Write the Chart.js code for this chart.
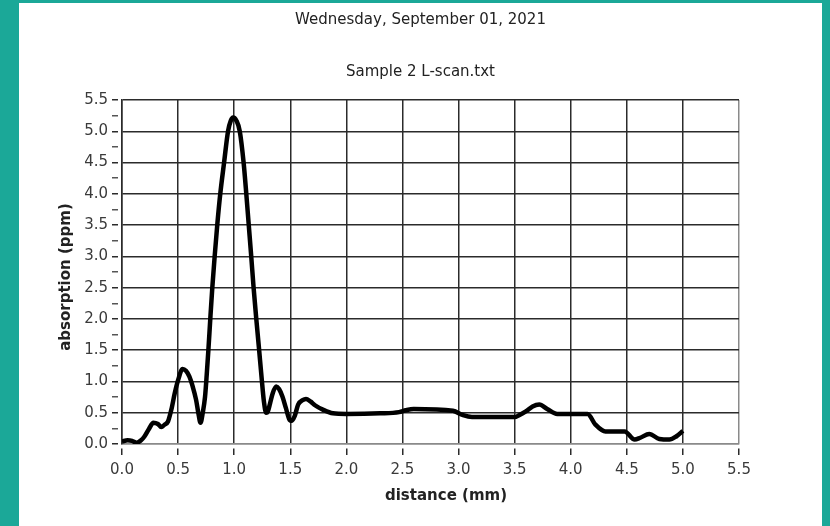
<!DOCTYPE html>
<html>
<head>
<meta charset="utf-8">
<script src="https://cdn.jsdelivr.net/npm/chart.js@4/dist/chart.umd.min.js"></script>
<style>
  html, body { margin: 0; padding: 0; }
  body { width: 830px; height: 526px; background: #1ba898; position: relative; overflow: hidden; }
  .panel { position: absolute; left: 19px; top: 3px; width: 803px; height: 523px; background: #fff; }
  canvas { display: block; }
</style>
</head>
<body>
<div class="panel"><canvas id="scan" width="803" height="523"></canvas></div>
<script>
  "use strict";

  // L-scan profile: distance along the sample (mm) and absorption (ppm)
  var distance = [
    0.00, 0.05, 0.09, 0.13, 0.17, 0.20, 0.24, 0.28, 0.32, 0.35,
    0.38, 0.41, 0.44, 0.47, 0.50, 0.54, 0.57, 0.60, 0.63, 0.66,
    0.68, 0.70, 0.72, 0.74, 0.755, 0.77, 0.787, 0.805, 0.826, 0.849,
    0.876, 0.91, 0.945, 0.97, 0.99, 1.02, 1.05, 1.084, 1.108, 1.13,
    1.152, 1.173, 1.197, 1.22, 1.245, 1.265, 1.285, 1.30, 1.32,
    1.345, 1.375, 1.40, 1.43, 1.46, 1.49, 1.51, 1.54, 1.57, 1.61,
    1.64, 1.68, 1.72, 1.79, 1.88, 2.00, 2.30, 2.47, 2.53, 2.60,
    2.95, 3.04, 3.12, 3.50, 3.54, 3.60, 3.66, 3.72, 3.79, 3.88,
    4.15, 4.22, 4.31, 4.48, 4.57, 4.62, 4.70, 4.79, 4.88, 4.94,
    5.00
  ];
  var absorption = [
    0.04, 0.06, 0.05, 0.02, 0.06, 0.12, 0.24, 0.34, 0.32, 0.27,
    0.31, 0.36, 0.55, 0.81, 1.02, 1.20, 1.17, 1.08, 0.92, 0.71,
    0.50, 0.34, 0.50, 0.75, 1.10, 1.50, 2.00, 2.50, 3.00, 3.50,
    4.00, 4.50, 5.00, 5.17, 5.22, 5.17, 5.00, 4.50, 4.00, 3.50,
    3.00, 2.50, 2.00, 1.55, 1.05, 0.68, 0.50, 0.52, 0.65,
    0.82, 0.92, 0.88, 0.76, 0.58, 0.40, 0.37, 0.45, 0.63, 0.70,
    0.72, 0.68, 0.62, 0.55, 0.49, 0.48, 0.49, 0.51, 0.54, 0.56,
    0.53, 0.46, 0.43, 0.43, 0.46, 0.52, 0.60, 0.63, 0.56, 0.48,
    0.48, 0.31, 0.20, 0.20, 0.07, 0.10, 0.16, 0.08, 0.07, 0.12,
    0.21
  ];

  var plotTitle = "Wednesday, September 01, 2021";
  var plotSubtitle = "Sample 2 L-scan.txt";
  var xLabel = "distance (mm)";
  var yLabel = "absorption (ppm)";

  var points = distance.map(function (d, i) {
    return { x: d, y: absorption[i] };
  });

  var fontFamily = "'DejaVu Sans', sans-serif";
  var gridDark = "#2b2b2b";
  var gridEdge = "#8a8a8a";
  var textColor = "#3a3a3a";

  // major values are the multiples of 0.5, everything else is a minor tick
  function isMajor(v) {
    return Math.abs(v * 2 - Math.round(v * 2)) < 1e-6;
  }

  // titles and axis names, placed on the whole panel rather than the plot box
  var panelText = {
    id: "panelText",
    afterDraw: function (chart) {
      var ctx = chart.ctx;
      var mid = chart.width / 2;
      ctx.save();
      ctx.fillStyle = "#222";
      ctx.textAlign = "center";
      ctx.textBaseline = "middle";
      ctx.font = "15px " + fontFamily;
      ctx.fillText(plotTitle, mid, 17);
      ctx.fillText(plotSubtitle, mid, 69);
      ctx.font = "bold 15px " + fontFamily;
      ctx.fillText(xLabel, 427, 493);
      ctx.translate(47, 274);
      ctx.rotate(-Math.PI / 2);
      ctx.fillText(yLabel, 0, 0);
      ctx.restore();
    },
  };

  new Chart(document.getElementById("scan"), {
    type: "line",
    data: {
      datasets: [
        {
          data: points,
          borderColor: "#000",
          borderWidth: 4.5,
          pointRadius: 0,
          fill: false,
          tension: 0.4,
          cubicInterpolationMode: "monotone",
        },
      ],
    },
    plugins: [panelText],
    options: {
      responsive: false,
      animation: false,
      layout: { padding: { left: 0, right: 83, top: 97, bottom: 0 } },
      plugins: {
        legend: { display: false },
        tooltip: { enabled: false },
      },
      scales: {
        x: {
          type: "linear",
          min: 0,
          max: 5.5,
          afterFit: function (scale) { scale.height = 82; },
          ticks: {
            stepSize: 0.5,
            autoSkip: false,
            maxRotation: 0,
            padding: 6,
            color: textColor,
            font: { family: fontFamily, size: 15 },
            callback: function (v) { return v.toFixed(1); },
          },
          grid: {
            color: function (ctx) {
              return ctx.tick && ctx.tick.value >= 5.5 ? gridEdge : gridDark;
            },
            lineWidth: 1.5,
            tickLength: 11,
            tickColor: gridDark,
            tickBorderDash: [7, 4],
            tickBorderDashOffset: 7,
            tickWidth: 1.5,
          },
          border: { display: true, color: gridEdge, width: 1.5 },
        },
        y: {
          min: 0,
          max: 5.5,
          afterFit: function (scale) { scale.width = 103; },
          afterBuildTicks: function (scale) {
            var ticks = [];
            for (var i = 0; i <= 22; i++) ticks.push({ value: i * 0.25 });
            scale.ticks = ticks;
          },
          ticks: {
            autoSkip: false,
            padding: 4,
            color: textColor,
            font: { family: fontFamily, size: 15 },
            callback: function (v) { return isMajor(v) ? v.toFixed(1) : ""; },
          },
          grid: {
            color: function (ctx) {
              if (!ctx.tick) return gridDark;
              if (!isMajor(ctx.tick.value)) return "rgba(0,0,0,0)";
              return ctx.tick.value <= 0 ? gridEdge : gridDark;
            },
            lineWidth: 1.5,
            tickLength: 10,
            tickColor: function (ctx) {
              return ctx.tick && isMajor(ctx.tick.value) ? gridDark : "#555";
            },
            tickBorderDash: [6, 4],
            tickWidth: 1.5,
          },
          border: { display: true, color: gridDark, width: 1.5 },
        },
      },
    },
  });
</script>
</body>
</html>
